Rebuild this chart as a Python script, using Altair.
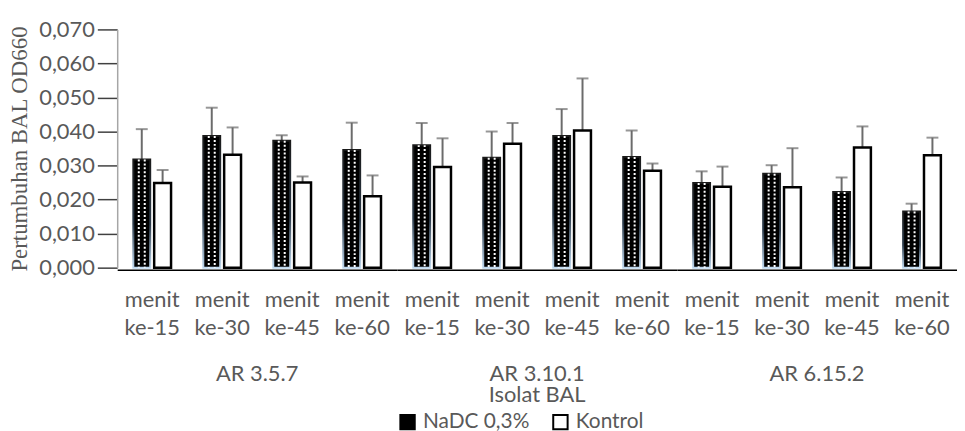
import altair as alt
import pandas as pd

groups = ["AR 3.5.7", "AR 3.10.1", "AR 6.15.2"]
times = ["ke-15", "ke-30", "ke-45", "ke-60"]
series = ["NaDC 0,3%", "Kontrol"]

nadc = [0.0318, 0.0387, 0.0373, 0.0346, 0.0360, 0.0323, 0.0387, 0.0325, 0.0249, 0.0276, 0.0222, 0.0165]
nadc_sd = [0.0089, 0.0083, 0.0016, 0.0080, 0.0065, 0.0077, 0.0079, 0.0078, 0.0034, 0.0025, 0.0043, 0.0023]
kontrol = [0.0249, 0.0332, 0.0250, 0.0210, 0.0296, 0.0364, 0.0403, 0.0285, 0.0238, 0.0236, 0.0353, 0.0330]
kontrol_sd = [0.0038, 0.0080, 0.0018, 0.0061, 0.0084, 0.0061, 0.0153, 0.0021, 0.0059, 0.0115, 0.0062, 0.0052]
y_ticks = [0.0, 0.01, 0.02, 0.03, 0.04, 0.05, 0.06, 0.07]

rows = []
for gi, g in enumerate(groups):
    for ti, t in enumerate(times):
        k = gi * 4 + ti
        rows.append(dict(group=g, time=t, series=series[0], value=nadc[k], sd=nadc_sd[k]))
        rows.append(dict(group=g, time=t, series=series[1], value=kontrol[k], sd=kontrol_sd[k]))
df = pd.DataFrame(rows)

GRAY = "#595959"
YTITLE = "Pertumbuhan BAL OD660"

xaxis = alt.Axis(title=None, labelAngle=0, labelExpr="['menit', datum.value]", ticks=False,
                 labelPadding=20, labelLineHeight=28, labelFontSize=22, labelFont="Lato",
                 labelColor=GRAY, domainColor="#000000", domainWidth=1.5)
yaxis = alt.Axis(title=YTITLE, values=y_ticks,
                 labelExpr="replace(format(datum.value, '.3f'), '.', ',')",
                 tickSize=20, tickColor="#404040", tickWidth=1.5, labelPadding=3,
                 labelFontSize=22, labelFont="Lato", labelColor=GRAY,
                 domainColor="#a6a6a6", domainWidth=1.5,
                 titleFont="Liberation Serif", titleFontSize=23, titleFontWeight="normal",
                 titleColor=GRAY, titlePadding=7)

X = alt.X("time:N", sort=times, scale=alt.Scale(paddingInner=0, paddingOuter=0), axis=xaxis)
yscale = alt.Scale(domain=[0, 0.07], nice=False, zero=True)
Y = alt.Y("value:Q", scale=yscale, axis=yaxis, title=YTITLE)
Ytop = alt.Y("top:Q", scale=yscale, axis=yaxis, title=YTITLE)

fill = alt.Fill("series:N", scale=alt.Scale(domain=series, range=["#000000", "#ffffff"]),
                legend=alt.Legend(title=None, orient="none", direction="horizontal",
                                  legendX=282, legendY=385, symbolType="square", symbolSize=210,
                                  symbolStrokeColor="#000000", symbolStrokeWidth=2,
                                  labelFont="Lato", labelFontSize=21, labelColor=GRAY,
                                  labelOffset=5, columnPadding=19))

base = alt.Chart().transform_calculate(top="datum.value + datum.sd")
is_n = alt.datum.series == series[0]
is_k = alt.datum.series == series[1]

grad = alt.LinearGradient(gradient="linear", x1=0, x2=0, y1=0, y2=1,
                          stops=[alt.GradientStop(color="#1a1a1a", offset=0),
                                 alt.GradientStop(color="#2a3a4a", offset=0.6),
                                 alt.GradientStop(color="#bdd7ee", offset=1)])

nadc_bar = base.transform_filter(is_n).mark_bar(width=17, xOffset=-10.5, stroke=grad, strokeWidth=2).encode(x=X, y=Y, fill=fill)
dash1 = base.transform_filter(is_n).mark_rule(xOffset=-13.5, color="white", strokeWidth=2, strokeDash=[2, 2]).encode(x=X, y=Y, y2=alt.datum(0))
dash2 = base.transform_filter(is_n).mark_rule(xOffset=-7.5, color="white", strokeWidth=2, strokeDash=[2, 2]).encode(x=X, y=Y, y2=alt.datum(0))
kon_bar = base.transform_filter(is_k).mark_bar(width=17, xOffset=10.5, stroke="#000000", strokeWidth=2.5).encode(x=X, y=Y, fill=fill)

err_n = base.transform_filter(is_n).mark_rule(xOffset=-10.5, color="#6b6b6b", strokeWidth=2).encode(x=X, y=Y, y2="top:Q")
err_k = base.transform_filter(is_k).mark_rule(xOffset=10.5, color="#6b6b6b", strokeWidth=2).encode(x=X, y=Y, y2="top:Q")
cap_n = base.transform_filter(is_n).mark_tick(xOffset=-10.5, color="#6b6b6b", size=12, thickness=2, orient="horizontal").encode(x=X, y=Ytop)
cap_k = base.transform_filter(is_k).mark_tick(xOffset=10.5, color="#6b6b6b", size=12, thickness=2, orient="horizontal").encode(x=X, y=Ytop)

layered = alt.layer(err_n, err_k, cap_n, cap_k, nadc_bar, dash1, dash2, kon_bar).properties(width=282, height=240)

chart = layered.facet(
    column=alt.Column("group:N", sort=groups, title="Isolat BAL",
                      header=alt.Header(labelOrient="bottom", titleOrient="bottom",
                                        labelFont="Lato", labelFontSize=22, labelColor=GRAY, labelPadding=26,
                                        titleFont="Lato", titleFontSize=22, titleColor=GRAY,
                                        titleFontWeight="normal", titlePadding=-10)),
    data=df, spacing=0,
).properties(padding={"left": 0, "top": 9, "right": 0, "bottom": 0}, background="white"
).configure_view(stroke=None).configure_axis(grid=False).configure_axisY(tickSize=20, labelPadding=3)

chart.save("out.html", embed_options={"renderer": "svg", "actions": False})
